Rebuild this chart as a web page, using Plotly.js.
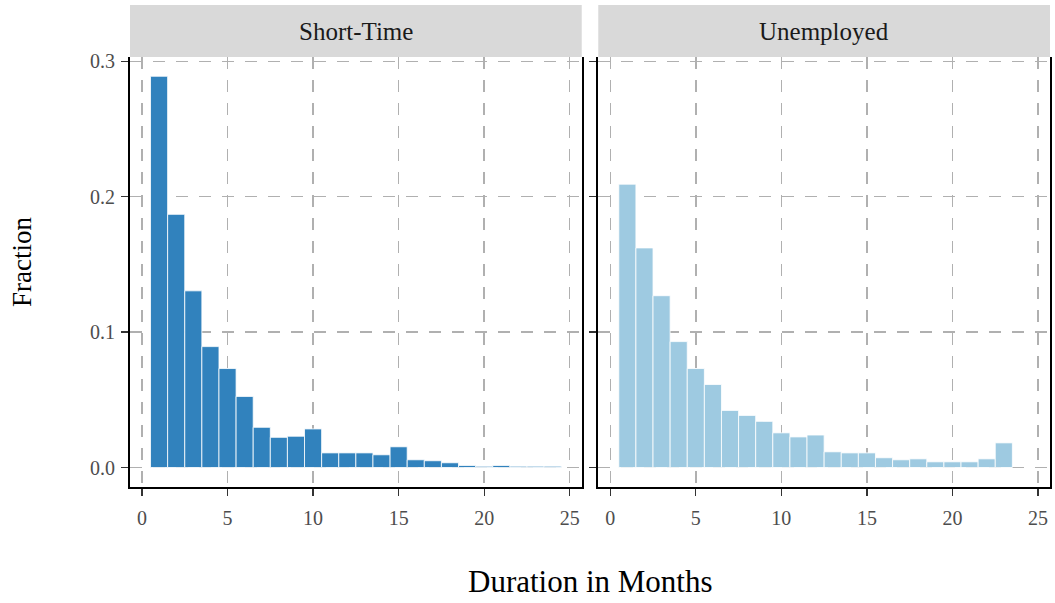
<!DOCTYPE html>
<html>
<head>
<meta charset="utf-8">
<script src="https://cdn.plot.ly/plotly-3.0.1.min.js"></script>
<style>
  html, body { margin: 0; padding: 0; background: #ffffff; }
  #chart { width: 1055px; height: 603px; }
</style>
</head>
<body>
<div id="chart"></div>
<script>
// Duration bins (months, bin width 1)
const monthsShort = [1, 2, 3, 4, 5, 6, 7, 8, 9, 10, 11, 12, 13, 14, 15, 16, 17, 18, 19, 20, 21, 22, 23, 24];
const monthsUnemp = [1, 2, 3, 4, 5, 6, 7, 8, 9, 10, 11, 12, 13, 14, 15, 16, 17, 18, 19, 20, 21, 22, 23];

// Fraction of spells ending in each month
const shortTime = [0.289, 0.187, 0.1305, 0.0893, 0.0731, 0.0525, 0.0297, 0.0223, 0.0231, 0.0285,
                   0.0108, 0.0108, 0.0108, 0.0094, 0.0153, 0.0057, 0.005, 0.0035, 0.0015, 0.0009,
                   0.0015, 0.0009, 0.0009, 0.0009];
const unemployed = [0.2093, 0.1622, 0.1269, 0.093, 0.0731, 0.0613, 0.0422, 0.0385, 0.0341, 0.0256,
                    0.0226, 0.024, 0.0116, 0.0108, 0.0108, 0.0072, 0.0057, 0.0064, 0.0042, 0.0042,
                    0.0042, 0.0064, 0.0182];

const panelTitles = ['Short-Time', 'Unemployed'];
const xTicks = [0, 5, 10, 15, 20, 25];
const yTicks = [0.0, 0.1, 0.2, 0.3];

const serif = '"Liberation Serif", "DejaVu Serif", serif';
const domLeft = [0, 0.491];
const domRight = [0.509, 1];
const panelTop = 0.892;

const gridStyle = {
  showgrid: true,
  gridcolor: '#b0b0b0',
  gridwidth: 1.4,
  griddash: '12px,11px',
  zeroline: false
};

const xBase = Object.assign({
  range: [-0.7, 25.7],
  tickmode: 'array',
  tickvals: xTicks,
  ticktext: xTicks.map(String),
  showline: true,
  linecolor: '#000000',
  linewidth: 2,
  ticks: 'outside',
  ticklen: 7,
  tickwidth: 1.3,
  tickcolor: '#333333',
  ticklabelstandoff: 5,
  tickfont: { family: serif, size: 20, color: '#4d4d4d' },
  fixedrange: true
}, gridStyle);

const yBase = Object.assign({
  range: [-0.0144, 0.3032],
  domain: [0, panelTop],
  tickmode: 'array',
  tickvals: yTicks,
  ticktext: yTicks.map(v => v.toFixed(1)),
  showline: true,
  mirror: true,
  linecolor: '#000000',
  linewidth: 2,
  ticks: 'outside',
  ticklen: 7,
  tickwidth: 1.3,
  tickcolor: '#333333',
  ticklabelstandoff: 2,
  tickfont: { family: serif, size: 20, color: '#4d4d4d' },
  fixedrange: true
}, gridStyle);

const traces = [
  {
    type: 'bar', x: monthsShort, y: shortTime, width: 1,
    xaxis: 'x', yaxis: 'y',
    marker: { color: '#3182bd', line: { color: '#ffffff', width: 0.8 } },
    hoverinfo: 'x+y', showlegend: false
  },
  {
    type: 'bar', x: monthsUnemp, y: unemployed, width: 1,
    xaxis: 'x2', yaxis: 'y2',
    marker: { color: '#9ecae1', line: { color: '#ffffff', width: 0.8 } },
    hoverinfo: 'x+y', showlegend: false
  }
];

// Facet strips across the top of each panel
const strips = [domLeft, domRight].map(d => ({
  type: 'rect', xref: 'paper', yref: 'paper',
  x0: d[0], x1: d[1], y0: panelTop, y1: 1,
  fillcolor: '#d9d9d9', line: { width: 0 }, layer: 'above'
}));

const stripLabels = [domLeft, domRight].map((d, i) => ({
  xref: 'paper', yref: 'paper',
  x: (d[0] + d[1]) / 2, y: (panelTop + 1) / 2,
  xanchor: 'center', yanchor: 'middle',
  text: panelTitles[i], showarrow: false,
  font: { family: serif, size: 25, color: '#1a1a1a' }
}));

const layout = {
  width: 1055,
  height: 603,
  margin: { l: 130, r: 5, t: 5, b: 116 },
  paper_bgcolor: '#ffffff',
  plot_bgcolor: '#ffffff',
  bargap: 0,
  showlegend: false,
  xaxis: Object.assign({}, xBase, { domain: domLeft, anchor: 'y' }),
  yaxis: Object.assign({}, yBase, { anchor: 'x' }),
  xaxis2: Object.assign({}, xBase, { domain: domRight, anchor: 'y2' }),
  yaxis2: Object.assign({}, yBase, { anchor: 'x2', showticklabels: false }),
  shapes: strips,
  annotations: stripLabels.concat([
    {
      xref: 'paper', yref: 'paper', x: 0.5, y: -0.197,
      xanchor: 'center', yanchor: 'middle',
      text: 'Duration in Months', showarrow: false,
      font: { family: serif, size: 31, color: '#000000' }
    },
    {
      xref: 'paper', yref: 'paper', x: -0.1174, y: 0.467,
      xanchor: 'center', yanchor: 'middle', textangle: -90,
      text: 'Fraction', showarrow: false,
      font: { family: serif, size: 27, color: '#000000' }
    }
  ])
};

Plotly.newPlot('chart', traces, layout, { displayModeBar: false, staticPlot: true });
</script>
</body>
</html>
